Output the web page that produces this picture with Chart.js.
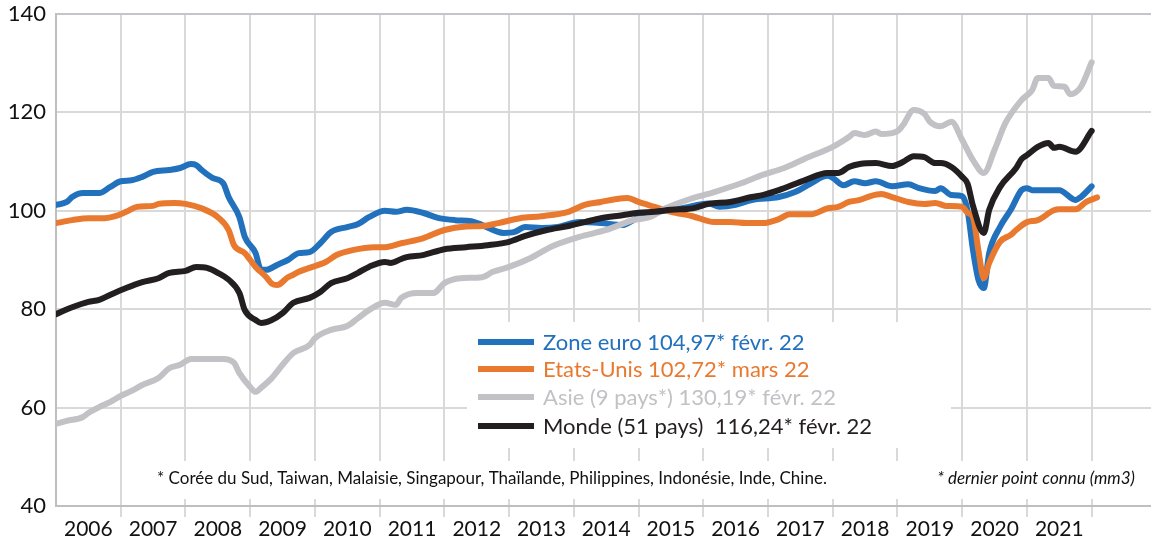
<!DOCTYPE html>
<html>
<head>
<meta charset="utf-8">
<script src="https://cdn.jsdelivr.net/npm/chart.js@4"></script>
<style>
  html, body { margin: 0; padding: 0; background: #fff; }
  #wrap { width: 1151px; height: 546px; position: relative; }
</style>
</head>
<body>
<div id="wrap"><canvas id="c" width="1151" height="546"></canvas></div>
<script>
// months counted from Jan 2006
const euroMonths = [0,2,3,5,8,10,12,14,16,18,21,23,25,26,27,29,31,32,34,35,37,38,39,41,43,45,47,49,51,54,56,58,61,63,65,68,71,74,77,79,83,85,87,90,93,97,101,105,107,109,113,116,121,123,126,129,134,137,140,143,144,146,148,150,152,155,158,160,163,164,166,168,169,170,171,172,173,175,177,179,180,181,183,186,189,190,192]
const euroValues = [101.2,101.8,102.8,103.6,103.6,104.8,106.0,106.2,106.9,107.9,108.3,108.7,109.5,109.3,108.3,106.7,105.6,102.8,98.7,94.7,91.4,88.0,88.0,89.0,90.0,91.4,91.6,93.4,95.7,96.7,97.3,98.7,100.0,99.8,100.2,99.6,98.5,98.1,97.9,97.1,95.5,95.7,96.7,96.5,96.7,97.7,97.5,97.1,98.1,99.1,100.1,100.5,101.5,100.8,101.2,102.2,102.8,103.8,105.6,107.1,106.7,105.2,106.0,105.6,106.0,105.0,105.4,104.6,104.0,104.6,103.2,103.0,100.0,92.0,86.0,84.3,91.4,96.7,100.2,104.2,104.6,104.2,104.2,104.2,102.2,102.8,104.97]

const usMonths = [0,3,6,9,11,13,15,18,19,22,24,27,30,32,33,35,37,39,40,41,43,44,45,47,50,52,55,59,61,64,68,72,76,79,82,86,90,95,98,101,104,106,108,111,114,118,122,125,128,131,134,136,140,143,145,147,149,151,153,155,158,161,163,165,168,169,170,171,172,173,175,177,178,180,182,185,186,189,191,193]
const usValues = [97.5,98.1,98.5,98.5,98.9,99.8,100.8,101.0,101.4,101.6,101.4,100.5,98.7,96.1,93.0,91.4,88.6,86.5,85.2,84.9,86.5,87.0,87.6,88.4,89.6,91.0,92.0,92.6,92.6,93.4,94.4,96.1,96.8,96.9,97.5,98.5,98.9,99.8,101.2,101.8,102.4,102.6,101.8,100.8,99.8,98.9,97.7,97.7,97.5,97.5,98.3,99.3,99.3,100.5,100.8,101.8,102.2,103.0,103.4,102.8,101.8,101.4,101.6,101.0,100.8,99.6,98.7,92.0,86.3,89.4,93.7,95.1,96.1,97.7,98.1,100.1,100.3,100.3,101.8,102.72]

const asiaMonths = [0,2,5,6,8,10,12,14,16,19,21,23,25,28,31,33,34,36,37,38,40,42,44,47,48,51,54,56,58,61,63,64,67,70,72,75,79,81,84,88,92,97,102,107,110,113,117,122,127,131,135,139,144,147,148,150,152,153,156,157,159,161,162,164,166,168,170,172,174,176,179,181,182,184,185,187,188,190,192]
const asiaValues = [56.7,57.3,58.1,58.9,60.1,61.1,62.4,63.4,64.6,66.0,68.0,68.7,69.9,69.9,69.9,69.1,67.0,64.2,63.2,64.0,66.0,68.7,71.1,72.7,74.1,75.8,76.6,78.2,79.8,81.3,80.9,82.3,83.3,83.3,85.3,86.3,86.5,87.6,88.6,90.4,92.8,94.7,96.1,98.1,98.7,100.5,102.2,103.8,105.6,107.3,108.7,110.7,113.0,115.0,115.8,115.4,116.1,115.6,116.2,117.4,120.5,119.7,118.1,117.2,118.1,114.4,110.3,107.7,112.4,117.8,122.5,124.6,127.0,127.0,125.4,125.2,123.7,125.2,130.19]

const worldMonths = [0,3,6,8,10,13,16,19,21,24,26,28,30,32,34,35,37,38,40,42,44,47,49,51,54,56,58,61,62,64,65,68,72,76,80,84,87,91,95,98,101,105,108,111,114,118,121,125,129,131,134,139,143,145,147,149,152,155,157,159,161,163,164,166,168,169,170,172,173,175,178,179,180,182,184,185,186,189,192]
const worldValues = [79.0,80.4,81.5,81.9,82.9,84.3,85.5,86.3,87.4,87.8,88.6,88.4,87.4,86.0,83.3,79.8,77.8,77.2,77.8,79.2,81.3,82.3,83.5,85.3,86.3,87.4,88.6,89.6,89.4,90.2,90.6,91.0,92.2,92.6,93.0,93.7,94.9,96.1,96.9,97.7,98.5,99.1,99.6,99.8,100.2,100.5,101.4,101.8,102.8,103.2,104.2,106.3,107.7,107.7,108.9,109.5,109.7,109.1,109.9,111.1,110.9,109.7,109.7,108.9,106.9,105.5,101.0,95.5,100.2,104.8,108.7,110.5,111.3,113.0,113.8,112.8,113.0,112.0,116.24]

const seriesLabels = ['Zone euro 104,97* févr. 22', 'Etats-Unis 102,72* mars 22', 'Asie (9 pays*) 130,19* févr. 22', 'Monde (51 pays)  116,24* févr. 22']
const seriesColors = ['#2271BD', '#E8792F', '#C2C2C6', '#231F20']
const yearLabels = ['2006','2007','2008','2009','2010','2011','2012','2013','2014','2015','2016','2017','2018','2019','2020','2021']
const noteAsia = '* Corée du Sud, Taiwan, Malaisie, Singapour, Thaïlande, Philippines, Indonésie, Inde, Chine.'
const noteLast = '* dernier point connu (mm3)'

const FONT = 'Lato, "Open Sans", sans-serif'

function pts(months, values) {
    return months.map((m, i) => ({ x: m, y: values[i] }))
}

const boxes = {
    id: 'boxes',
    beforeDatasetsDraw(chart) {
        const ctx = chart.ctx
        ctx.save()
        ctx.fillStyle = '#fff'
        ctx.fillRect(467, 322, 484, 126)   // legend box
        ctx.fillRect(148, 461, 1003, 38)   // footnote strip
        ctx.restore()
    },
    afterDraw(chart) {
        const ctx = chart.ctx
        ctx.save()
        // legend
        const rows = [342, 369, 397, 426]
        ctx.textBaseline = 'middle'
        ctx.font = '22px ' + FONT
        for (let i = 0; i < 4; i++) {
            ctx.strokeStyle = seriesColors[i]
            ctx.lineWidth = 6
            ctx.beginPath()
            ctx.moveTo(478, rows[i])
            ctx.lineTo(534, rows[i])
            ctx.stroke()
            ctx.fillStyle = seriesColors[i]
            ctx.fillText(seriesLabels[i], 543, rows[i] + 1)
        }
        // footnotes
        ctx.fillStyle = '#111'
        ctx.font = '17px ' + FONT
        ctx.textAlign = 'left'
        ctx.fillText(noteAsia, 157, 479)
        ctx.font = 'italic 17px ' + FONT
        ctx.textAlign = 'right'
        ctx.fillText(noteLast, 1135, 479)
        ctx.restore()
    }
}

const ctx = document.getElementById('c').getContext('2d')
const sets = [[euroMonths, euroValues], [usMonths, usValues], [asiaMonths, asiaValues], [worldMonths, worldValues]]

new Chart(ctx, {
    type: 'line',
    data: {
        datasets: sets.map((s, i) => ({
            label: seriesLabels[i],
            data: pts(s[0], s[1]),
            borderColor: seriesColors[i],
            borderWidth: 6,
            pointRadius: 0,
            fill: false,
            cubicInterpolationMode: 'monotone',
            borderCapStyle: 'round',
            borderJoinStyle: 'round',
            order: 4 - i
        }))
    },
    options: {
        responsive: false,
        animation: false,
        layout: { padding: { top: 14, right: 0, left: 0, bottom: 0 } },
        plugins: { legend: { display: false }, tooltip: { enabled: false } },
        scales: {
            x: {
                type: 'linear',
                min: 0,
                max: 203,
                afterBuildTicks: scale => {
                    const t = []
                    for (let v = 6; v <= 198; v += 6) t.push({ value: v })
                    scale.ticks = t
                },
                afterFit: scale => {
                    scale.height = 40
                    scale.paddingLeft = 0
                    scale.paddingRight = 0
                },
                grid: {
                    color: c => (c.tick && c.tick.value % 12 === 0) ? '#D9D9D9' : 'rgba(0,0,0,0)',
                    lineWidth: 2,
                    tickLength: 11
                },
                border: { color: '#BFBFC3', width: 2 },
                ticks: {
                    autoSkip: false,
                    maxRotation: 0,
                    padding: 0,
                    color: '#111',
                    font: { family: FONT, size: 21 },
                    callback: v => {
                        if (v % 12 !== 6) return ''
                        const k = (v - 6) / 12
                        return yearLabels[k] || ''
                    }
                }
            },
            y: {
                min: 40,
                max: 140,
                afterFit: scale => {
                    scale.width = 56
                    scale.paddingTop = 0
                    scale.paddingBottom = 0
                },
                grid: {
                    color: c => (c.tick && c.tick.value === 140) ? '#C4C4CA' : '#D9D9D9',
                    lineWidth: 2,
                    drawTicks: false
                },
                border: { color: '#BFBFC3', width: 2 },
                ticks: {
                    stepSize: 20,
                    padding: 10,
                    color: '#111',
                    font: { family: FONT, size: 22 }
                }
            }
        }
    },
    plugins: [boxes]
})
</script>
</body>
</html>
